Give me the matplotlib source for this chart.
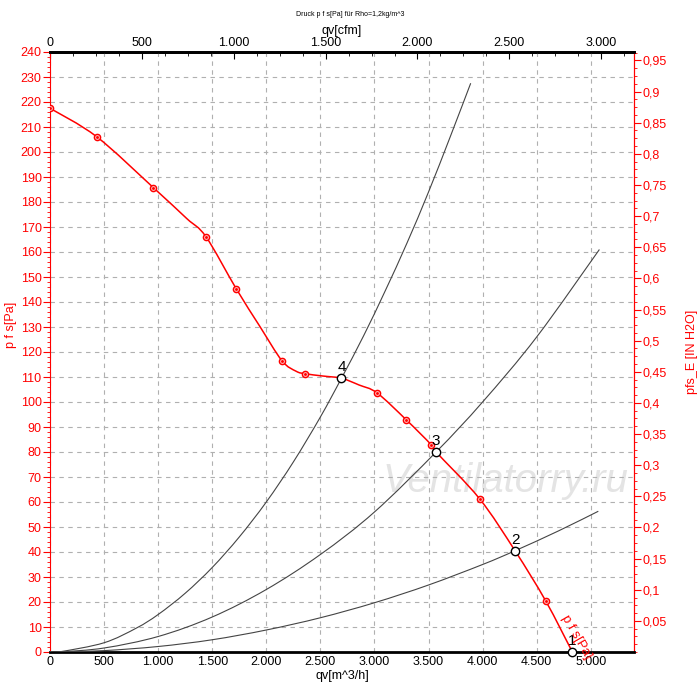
import matplotlib.pyplot as plt
import numpy as np
from matplotlib.path import Path
from matplotlib.patches import PathPatch
from matplotlib.ticker import FuncFormatter, MultipleLocator, AutoMinorLocator

plt.rcParams['font.family'] = ['Liberation Sans', 'DejaVu Sans']

# fan curve p f s [Pa] over qv [m^3/h]
fan_q = [0, 432, 957, 1264, 1442, 1722, 1938, 2145, 2276, 2361,
         2521, 2695, 2858, 3025, 3296, 3525, 3570, 3972, 4300, 4584, 4830]
fan_p = [217.5, 206.1, 185.7, 173.4, 166.1, 145.3, 130.4, 116.5, 112.3, 111.3,
         110.4, 109.5, 106.8, 103.6, 92.8, 82.9, 80.0, 61.3, 40.5, 20.4, 0.0]

# measured points (red circles)
meas_q = [0, 432, 957, 1442, 1722, 2145, 2361, 3025, 3296, 3525, 3972, 4584]
meas_p = [217.5, 206.1, 185.7, 166.1, 145.3, 116.5, 111.3, 103.6, 92.8, 82.9, 61.3, 20.4]

# operating points 1..4
op_labels = ["1", "2", "3", "4"]
op_q = [4830, 4300, 3570, 2695]
op_p = [0.0, 40.5, 80.0, 109.5]

# system curves (black)
sysA_q = [0, 100, 500, 800, 1000, 1250, 1500, 1750, 2000, 2250, 2500, 2695,
          2900, 3100, 3300, 3500, 3700, 3890]
sysA_p = [0, 0.15, 3.7, 9.6, 15.0, 23.5, 33.8, 46.0, 60.0, 76.0, 94.0, 109.5,
          126.5, 144.5, 163.5, 184.0, 206.0, 227.5]
sysB_q = [0, 100, 500, 1000, 1500, 2000, 2500, 3000, 3570, 4000, 4500, 5080]
sysB_p = [0, 0.06, 1.6, 6.2, 14.0, 25.0, 39.0, 56.0, 80.0, 100.0, 126.0, 161.0]
sysC_q = [0, 100, 500, 1000, 1500, 2000, 2500, 3000, 3500, 4000, 4300, 4700, 5070]
sysC_p = [0, 0.02, 0.55, 2.2, 4.9, 8.8, 13.7, 19.7, 26.8, 35.0, 40.5, 48.4, 56.3]

CFM = 1.699      # m^3/h per cfm
INH2O = 249.09   # Pa per inch H2O


def thousands(v, pos=None):
    return f"{int(round(v)):,}".replace(",", ".")


def comma_dec(v, pos=None):
    s = f"{v:.2f}".rstrip("0").rstrip(".")
    return s.replace(".", ",")


def smooth_path(xs, ys):
    # bezier path through the points (Catmull-Rom handles), drawing only
    pts = np.column_stack([xs, ys]).astype(float)
    verts = [pts[0]]
    codes = [Path.MOVETO]
    n = len(pts)
    for i in range(n - 1):
        p0 = pts[max(i - 1, 0)]
        p1 = pts[i]
        p2 = pts[i + 1]
        p3 = pts[min(i + 2, n - 1)]
        c1 = p1 + (p2 - p0) / 6.0
        c2 = p2 - (p3 - p1) / 6.0
        verts += [c1, c2, p2]
        codes += [Path.CURVE4] * 3
    return Path(verts, codes)


def draw_curve(ax, xs, ys, **kw):
    patch = PathPatch(smooth_path(xs, ys), facecolor="none", **kw)
    ax.add_patch(patch)


fig = plt.figure(figsize=(7, 7), dpi=100)
ax = fig.add_axes([50 / 700, 48 / 700, 584 / 700, 600 / 700])
ax.set_xlim(0, 5400)
ax.set_ylim(0, 240)

ax.grid(True, color="#b0b0b0", linestyle=(0, (4, 4)), linewidth=0.8)
ax.xaxis.set_major_locator(MultipleLocator(500))
ax.yaxis.set_major_locator(MultipleLocator(10))
ax.yaxis.set_minor_locator(AutoMinorLocator(5))
ax.xaxis.set_major_formatter(FuncFormatter(thousands))

ax.text(0.78, 0.285, "Ventilatorry.ru", transform=ax.transAxes, fontsize=29,
        style="italic", color="#e4e4e4", ha="center", va="center", zorder=1)

for q, p in [(sysA_q, sysA_p), (sysB_q, sysB_p), (sysC_q, sysC_p)]:
    draw_curve(ax, q, p, edgecolor="#444444", linewidth=0.8, zorder=3)

draw_curve(ax, fan_q, fan_p, edgecolor="red", linewidth=1.1, zorder=4)
ax.plot(meas_q, meas_p, "o", mfc="#ffb8b8", mec="red", ms=4.5, mew=1, zorder=5)
ax.plot(meas_q, meas_p, ".", color="red", ms=2, zorder=6)

ax.plot(op_q, op_p, "o", mfc="white", mec="black", ms=6, mew=1, zorder=7,
        clip_on=False)
for lab, q, p in zip(op_labels, op_q, op_p):
    ax.annotate(lab, (q, p), xytext=(0, 3), textcoords="offset points",
                ha="center", va="bottom", fontsize=11, zorder=8)

ax.text(4870, 6, "p f s[Pa]", color="red", fontsize=9.5, rotation=-60,
        ha="center", va="center", rotation_mode="anchor", zorder=8)

# spines
ax.spines["bottom"].set_linewidth(2)
ax.spines["top"].set_linewidth(2)
ax.spines["left"].set_color("red")
ax.spines["right"].set_color("red")
ax.tick_params(axis="x", which="both", length=0, labelsize=9, pad=3)
ax.tick_params(axis="y", which="major", colors="red", labelcolor="red",
               length=5, labelsize=9, pad=1)
ax.tick_params(axis="y", which="minor", colors="red", length=2.5)
ax.set_xlabel("qv[m^3/h]", fontsize=9, labelpad=1)
ax.set_ylabel("p f s[Pa]", fontsize=9, color="red")
ax.yaxis.set_label_coords(-0.057, 0.545)

# top axis in cfm
top = ax.secondary_xaxis("top", functions=(lambda x: x / CFM, lambda x: x * CFM))
top.set_xticks(np.arange(0, 3001, 500))
top.xaxis.set_minor_locator(AutoMinorLocator(4))
top.xaxis.set_major_formatter(FuncFormatter(thousands))
top.tick_params(which="major", direction="in", length=5, labelsize=9, pad=2)
top.tick_params(which="minor", direction="in", length=3)
top.spines["top"].set_linewidth(2)
top.set_xlabel("qv[cfm]", fontsize=9, labelpad=2)

# right axis in inch H2O
right = ax.secondary_yaxis("right", functions=(lambda y: y / INH2O, lambda y: y * INH2O))
right.set_yticks(np.arange(0.05, 0.96, 0.05))
right.yaxis.set_minor_locator(MultipleLocator(0.0125))
right.yaxis.set_major_formatter(FuncFormatter(comma_dec))
right.tick_params(which="major", colors="red", labelcolor="red", length=5,
                  labelsize=9, pad=1)
right.tick_params(which="minor", colors="red", length=2.5)
right.spines["right"].set_color("red")
right.set_ylabel("pfs_E [IN H2O]", fontsize=9, color="red", labelpad=14)

fig.text(0.5, 0.98, "Druck p f s[Pa] für Rho=1,2kg/m^3", fontsize=5,
         ha="center", va="center")

fig.savefig("out.png", dpi=100)
